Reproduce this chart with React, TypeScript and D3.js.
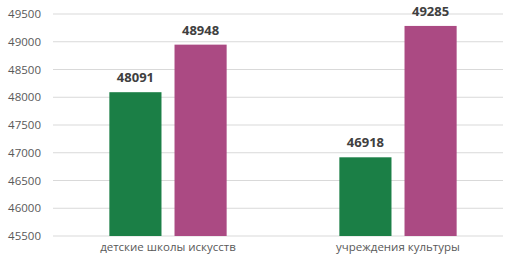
import React, { useEffect, useRef } from "react";
import * as d3 from "d3";

// ── Data ──────────────────────────────────────────────────────────────────────

const CATEGORIES = ["детские школы искусств", "учреждения культуры"];
const SERIES_A = [48091, 46918];
const SERIES_B = [48948, 49285];
const Y_TICKS = [45500, 46000, 46500, 47000, 47500, 48000, 48500, 49000, 49500];

// ── Constants ─────────────────────────────────────────────────────────────────

const WIDTH = 507;
const HEIGHT = 260;
const PLOT = { left: 53, right: 513, top: 14, bottom: 236 };
const COLORS = ["#1b7f46", "#ab4a83"];
const FONT = "'Open Sans', 'Noto Sans', sans-serif";

function renderChart(svgEl: SVGSVGElement) {
  const svg = d3.select(svgEl);
  svg.selectAll("*").remove();
  svg.attr("width", WIDTH).attr("height", HEIGHT).style("display", "block");

  svg.append("rect").attr("width", WIDTH).attr("height", HEIGHT).attr("fill", "#ffffff");

  const y = d3
    .scaleLinear()
    .domain([45500, 49500])
    .range([PLOT.bottom, PLOT.top]);

  const x0 = d3
    .scaleBand()
    .domain(CATEGORIES)
    .range([PLOT.left, PLOT.right])
    .paddingInner(0.49)
    .paddingOuter(0.245);

  const x1 = d3
    .scaleBand()
    .domain(["a", "b"])
    .range([0, x0.bandwidth()])
    .paddingInner(0.2)
    .paddingOuter(0);

  // Gridlines
  svg
    .append("g")
    .selectAll("line")
    .data(Y_TICKS)
    .join("line")
    .attr("x1", PLOT.left)
    .attr("x2", 503)
    .attr("y1", (d) => y(d))
    .attr("y2", (d) => y(d))
    .attr("stroke", "#d9d9d9")
    .attr("stroke-width", 1.2);

  // Y tick labels
  svg
    .append("g")
    .selectAll("text")
    .data(Y_TICKS)
    .join("text")
    .attr("x", 41)
    .attr("y", (d) => y(d))
    .attr("dy", "0.35em")
    .attr("text-anchor", "end")
    .attr("font-family", FONT)
    .attr("font-size", 11.5)
    .attr("fill", "#595959")
    .text((d) => String(d));

  // Bars + value labels
  const rows = CATEGORIES.flatMap((c, i) => [
    { cat: c, key: "a", value: SERIES_A[i], color: COLORS[0] },
    { cat: c, key: "b", value: SERIES_B[i], color: COLORS[1] },
  ]);

  const g = svg.append("g");
  g.selectAll("rect")
    .data(rows)
    .join("rect")
    .attr("x", (d) => (x0(d.cat) ?? 0) + (x1(d.key) ?? 0))
    .attr("y", (d) => y(d.value))
    .attr("width", x1.bandwidth())
    .attr("height", (d) => PLOT.bottom - y(d.value))
    .attr("fill", (d) => d.color);

  g.selectAll("text")
    .data(rows)
    .join("text")
    .attr("x", (d) => (x0(d.cat) ?? 0) + (x1(d.key) ?? 0) + x1.bandwidth() / 2)
    .attr("y", (d) => y(d.value) - 10)
    .attr("text-anchor", "middle")
    .attr("font-family", FONT)
    .attr("font-size", 13)
    .attr("font-weight", 700)
    .attr("fill", "#404040")
    .text((d) => String(d.value));

  // Category labels
  svg
    .append("g")
    .selectAll("text")
    .data(CATEGORIES)
    .join("text")
    .attr("x", (d) => (x0(d) ?? 0) + x0.bandwidth() / 2)
    .attr("y", 251)
    .attr("text-anchor", "middle")
    .attr("font-family", FONT)
    .attr("font-size", 11.5)
    .attr("fill", "#595959")
    .text((d) => d);
}

export default function App() {
  const svgRef = useRef<SVGSVGElement>(null);

  useEffect(() => {
    if (svgRef.current) renderChart(svgRef.current);
  }, []);

  return (
    <div style={{ position: "absolute", left: 0, top: 0 }}>
      <svg ref={svgRef} />
    </div>
  );
}
